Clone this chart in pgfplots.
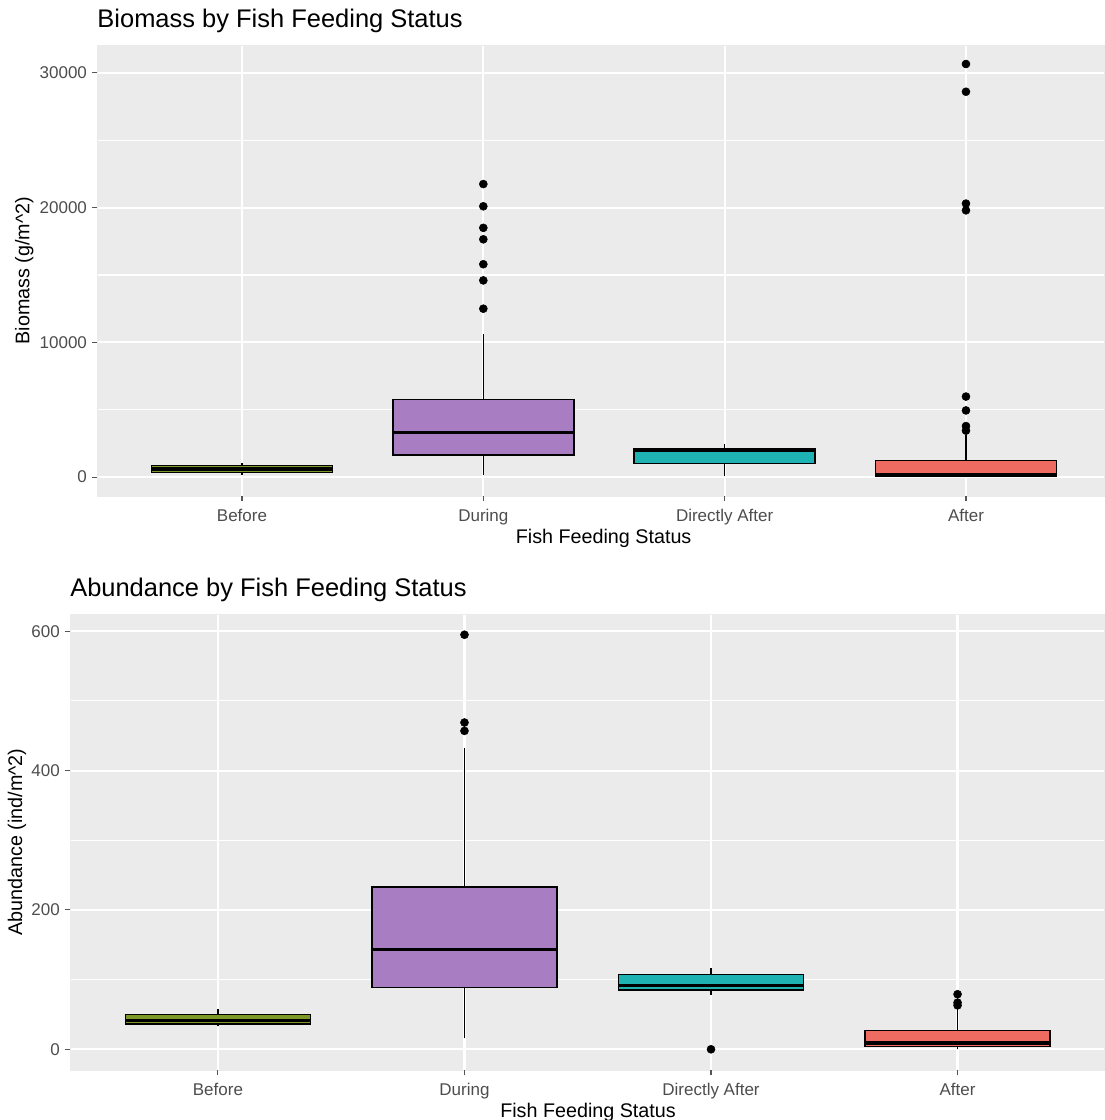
\documentclass[border=0pt]{standalone}
\usepackage{fontspec}
\setmainfont{Liberation Sans}
\usepackage{pgfplots}
\pgfplotsset{compat=1.18}
\usepgfplotslibrary{statistics}
\definecolor{panelbg}{HTML}{EBEBEB}
\definecolor{ggpurple}{RGB}{168,125,194}
\definecolor{ggteal}{RGB}{30,178,178}
\definecolor{ggred}{RGB}{238,107,97}
\definecolor{ggolive}{RGB}{124,152,38}
\definecolor{ticklab}{HTML}{4D4D4D}
\definecolor{tickcol}{HTML}{555555}
\tikzset{ggtick/.style={draw=tickcol, line width=0.8pt}}
\pgfplotsset{
  ggaxis/.style={
    scale only axis,
    axis background/.style={fill=panelbg},
    axis line style={draw=panelbg, line width=0.1pt},
    tick align=outside,
    tick pos=left,
    major tick length=4pt,
    minor tick length=0pt,
    every tick/.style={draw=tickcol, line width=0.8pt},
    xmajorgrids, ymajorgrids, yminorgrids,
    major grid style={white, line width=1.6pt},
    minor grid style={white, line width=0.8pt},
    xtick={1,2,3,4},
    xticklabels={Before,During,Directly After,After},
    xmin=0.4,
    minor y tick num=1,
    tick label style={font=\fontsize{12.75}{15}\selectfont, text=ticklab},
    xticklabel style={anchor=base, inner sep=0pt, yshift=-15.3pt},
    yticklabel style={anchor=east, inner sep=0pt, xshift=-3.5pt},
    /pgf/number format/assume math mode=true,
    /pgf/number format/1000 sep={},
    scaled y ticks=false,
    title style={at={(axis description cs:0,1)}, anchor=base west, inner sep=0pt, yshift=7pt, font=\fontsize{19.1}{23}\selectfont},
    label style={font=\fontsize{14.8}{18}\selectfont},
    clip=false,
  },
  ggbox/.style={draw=black, line width=1.1pt,
    boxplot/every median/.style={line width=2.4pt}},
  ggwhisk/.style={black, line width=1.1pt, mark=none},
  ggout/.style={only marks, mark=*, mark size=3pt, black},
}
\begin{document}
\begin{tikzpicture}
\useasboundingbox (0,0) rectangle (828pt,-840pt);
% ---------------- Biomass ----------------
\begin{axis}[ggaxis,
  at={(72.9pt,-372pt)}, anchor=south west,
  width=755.1pt, height=338.25pt,
  xmax=4.572, ymin=-1400, ymax=32070,
  ytick={0,10000,20000,30000},
  title={Biomass by Fish Feeding Status},
  xlabel={Fish Feeding Status},
  ylabel={Biomass (g/m\textasciicircum 2)},
  xlabel style={at={(axis description cs:0.503,0)}, anchor=base, inner sep=0pt, yshift=-35.6pt},
  ylabel style={at={(axis description cs:-0.0674,0.5)}, anchor=base, inner sep=0pt},
]
% whiskers
\addplot[ggwhisk] coordinates {(1,150) (1,1060)};
\addplot[ggwhisk] coordinates {(2,150) (2,10600)};
\addplot[ggwhisk] coordinates {(3,50) (3,2450)};
\addplot[ggwhisk] coordinates {(4,0) (4,3150)};
% boxes
\addplot[ggbox, fill=ggolive, boxplot prepared={draw direction=y, draw position=1, lower whisker=150, lower quartile=350, median=600, upper quartile=880, upper whisker=1060, box extend=0.75, whisker extend=0}] coordinates {};
\addplot[ggbox, fill=ggpurple, boxplot prepared={draw direction=y, draw position=2, lower whisker=150, lower quartile=1650, median=3300, upper quartile=5770, upper whisker=10600, box extend=0.75, whisker extend=0}] coordinates {};
\addplot[ggbox, fill=ggteal, boxplot prepared={draw direction=y, draw position=3, lower whisker=50, lower quartile=1000, median=1950, upper quartile=2100, upper whisker=2450, box extend=0.75, whisker extend=0}] coordinates {};
\addplot[ggbox, fill=ggred, boxplot prepared={draw direction=y, draw position=4, lower whisker=0, lower quartile=100, median=180, upper quartile=1250, upper whisker=3150, box extend=0.75, whisker extend=0}] coordinates {};
\addplot[ggout] coordinates {
  (2,21750) (2,20100) (2,18500) (2,17650) (2,15800) (2,14600) (2,12500)
  (4,30660) (4,28600) (4,20300) (4,19800) (4,5980) (4,4950) (4,3790) (4,3450)
};
\pgfplotsinvokeforeach{1,2,3,4}{\draw[ggtick] (axis cs:#1,-1400) -- ([yshift=-4pt]axis cs:#1,-1400);}
\pgfplotsinvokeforeach{0,10000,20000,30000}{\draw[ggtick] (axis cs:0.4,#1) -- ([xshift=-4pt]axis cs:0.4,#1);}
\end{axis}
% ---------------- Abundance ----------------
\begin{axis}[ggaxis,
  at={(52.5pt,-802.5pt)}, anchor=south west,
  width=775.5pt, height=342pt,
  xmax=4.594, ymin=-29.75, ymax=624.75,
  ytick={0,200,400,600},
  title={Abundance by Fish Feeding Status},
  xlabel={Fish Feeding Status},
  ylabel={Abundance (ind/m\textasciicircum 2)},
  xlabel style={at={(axis description cs:0.501,0)}, anchor=base, inner sep=0pt, yshift=-35.6pt},
  ylabel style={at={(axis description cs:-0.0464,0.5)}, anchor=base, inner sep=0pt},
]
% whiskers
\addplot[ggwhisk] coordinates {(1,33) (1,58)};
\addplot[ggwhisk] coordinates {(2,16) (2,433)};
\addplot[ggwhisk] coordinates {(3,78) (3,116)};
\addplot[ggwhisk] coordinates {(4,0) (4,59)};
% boxes
\addplot[ggbox, fill=ggolive, boxplot prepared={draw direction=y, draw position=1, lower whisker=33, lower quartile=36, median=41, upper quartile=50, upper whisker=58, box extend=0.75, whisker extend=0}] coordinates {};
\addplot[ggbox, fill=ggpurple, boxplot prepared={draw direction=y, draw position=2, lower whisker=16, lower quartile=88.6, median=142.8, upper quartile=232.7, upper whisker=433, box extend=0.75, whisker extend=0}] coordinates {};
\addplot[ggbox, fill=ggteal, boxplot prepared={draw direction=y, draw position=3, lower whisker=78, lower quartile=85, median=91, upper quartile=107, upper whisker=116, box extend=0.75, whisker extend=0}] coordinates {};
\addplot[ggbox, fill=ggred, boxplot prepared={draw direction=y, draw position=4, lower whisker=0, lower quartile=4, median=9, upper quartile=27, upper whisker=59, box extend=0.75, whisker extend=0}] coordinates {};
\addplot[ggout] coordinates {
  (2,595) (2,469) (2,457)
  (3,0)
  (4,79) (4,67) (4,63)
};
\pgfplotsinvokeforeach{1,2,3,4}{\draw[ggtick] (axis cs:#1,-29.75) -- ([yshift=-4pt]axis cs:#1,-29.75);}
\pgfplotsinvokeforeach{0,200,400,600}{\draw[ggtick] (axis cs:0.4,#1) -- ([xshift=-4pt]axis cs:0.4,#1);}
\end{axis}
\end{tikzpicture}
\end{document}
